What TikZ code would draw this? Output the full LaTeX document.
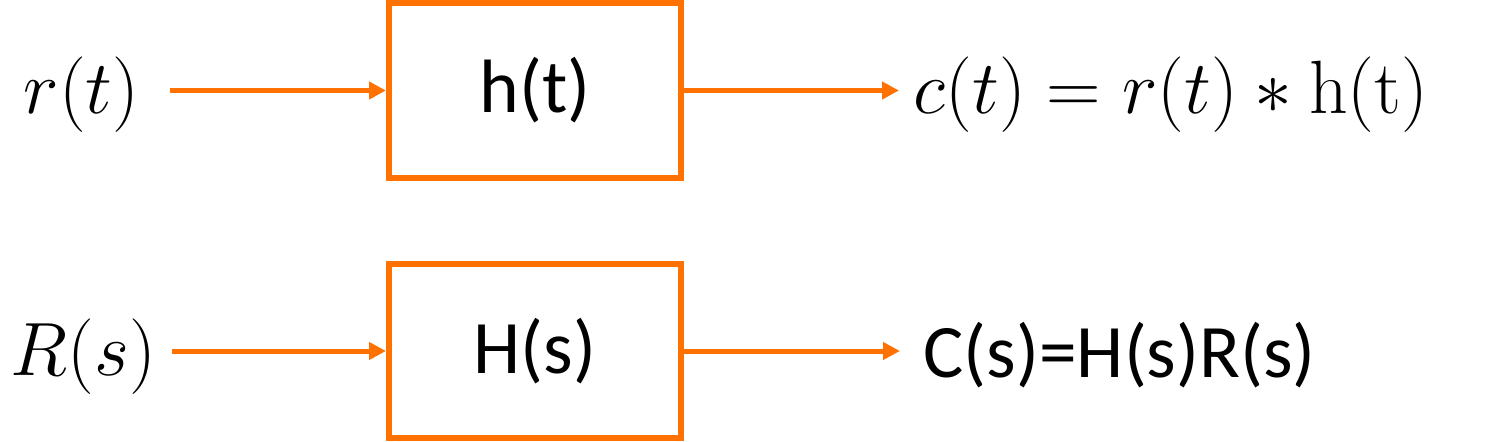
\documentclass[tikz,border=0pt]{standalone}
\usepackage{fix-cm}
\usepackage[no-math]{fontspec}
\setmainfont{Carlito}
\usetikzlibrary{%
	positioning,
	calc,
	arrows.meta
}
\definecolor{blockorange}{RGB}{255,113,0}

\begin{document}
\begin{tikzpicture}[
		SBlock/.style={draw=blockorange,line width=0.06cm,minimum width=2.92cm,minimum height=1.745cm,inner sep=0pt,font=\fontsize{21.5}{26}\selectfont},
		signal/.style={inner sep=0pt,font=\fontsize{21.5}{26}\selectfont},
		flow/.style={draw=blockorange,line width=0.05cm,-{Triangle[length=0.17cm,width=0.17cm]}}
	]
	\useasboundingbox (0,0) rectangle (15.09,-4.41);

	% time domain
	\node (hbox) [SBlock] at (5.35,-0.905) {h(t)};
	\node (rin) [signal, anchor=east] at (1.40,-0.95) {$r(t)$};
	\node (cout) [signal, anchor=west] at (9.13,-0.95) {$c(t) = r(t) * \mathrm{h(t)}$};

	% s domain
	\node (Hbox) [SBlock, below=0.8cm of hbox] {H(s)};
	\node (Rin) [signal, anchor=east] at (1.57,-3.565) {$R(s)$};
	\node (Cout) [signal, anchor=west] at (9.23,-3.55) {C(s)=H(s)R(s)};

	\draw[flow] ([xshift=3mm]rin.east |- hbox) -- (hbox);
	\draw[flow] (hbox) -- ([xshift=-1.4mm]cout.west |- hbox);
	\draw[flow] ([xshift=1.5mm]Rin.east |- Hbox) -- (Hbox);
	\draw[flow] (Hbox) -- ([xshift=-2.3mm]Cout.west |- Hbox);
\end{tikzpicture}
\end{document}
